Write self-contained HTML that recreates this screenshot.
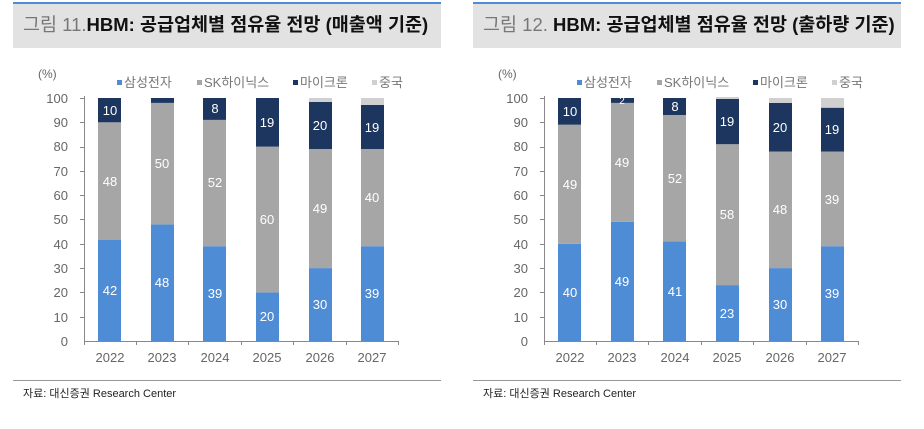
<!DOCTYPE html>
<html><head><meta charset="utf-8"><style>
body{margin:0;background:#fff;width:924px;height:424px;overflow:hidden}
svg text{font-family:"Liberation Sans","Noto Sans CJK KR",sans-serif}
</style></head><body>
<svg width="924" height="424" viewBox="0 0 924 424" xmlns="http://www.w3.org/2000/svg">
<defs>
<g id="axes">
<g font-size="13" fill="#666" text-anchor="end">
<text x="68" y="346">0</text><text x="68" y="322">10</text><text x="68" y="297">20</text><text x="68" y="273">30</text><text x="68" y="249">40</text><text x="68" y="224">50</text><text x="68" y="200">60</text><text x="68" y="176">70</text><text x="68" y="151">80</text><text x="68" y="127">90</text><text x="68" y="103">100</text>
</g>
<text x="38" y="78" font-size="12" fill="#666">(%)</text>
<g font-size="13" fill="#777">
<rect x="117" y="80" width="5" height="5" fill="#4f8cd6"/><text x="124" y="87">삼성전자</text>
<rect x="197" y="80" width="5" height="5" fill="#a6a6a6"/><text x="204" y="87">SK하이닉스</text>
<rect x="293" y="80" width="5" height="5" fill="#1c365f"/><text x="300" y="87">마이크론</text>
<rect x="372" y="80" width="5" height="5" fill="#d0d0d0"/><text x="379" y="87">중국</text>
</g>
<g stroke="#888" stroke-width="1">
<line x1="84.5" y1="96" x2="84.5" y2="341"/><line x1="84" y1="341.5" x2="398" y2="341.5"/>
<line x1="84.5" y1="341" x2="84.5" y2="345"/><line x1="136.5" y1="341" x2="136.5" y2="345"/><line x1="188.5" y1="341" x2="188.5" y2="345"/><line x1="241.5" y1="341" x2="241.5" y2="345"/><line x1="293.5" y1="341" x2="293.5" y2="345"/><line x1="346.5" y1="341" x2="346.5" y2="345"/><line x1="398.5" y1="341" x2="398.5" y2="345"/>
<line x1="80" y1="98.5" x2="84" y2="98.5"/><line x1="80" y1="122.5" x2="84" y2="122.5"/><line x1="80" y1="147.5" x2="84" y2="147.5"/><line x1="80" y1="171.5" x2="84" y2="171.5"/><line x1="80" y1="195.5" x2="84" y2="195.5"/><line x1="80" y1="219.5" x2="84" y2="219.5"/><line x1="80" y1="244.5" x2="84" y2="244.5"/><line x1="80" y1="268.5" x2="84" y2="268.5"/><line x1="80" y1="292.5" x2="84" y2="292.5"/><line x1="80" y1="317.5" x2="84" y2="317.5"/>
</g>
<g font-size="13" fill="#666" text-anchor="middle">
<text x="110" y="362">2022</text><text x="162" y="362">2023</text><text x="215" y="362">2024</text><text x="267" y="362">2025</text><text x="320" y="362">2026</text><text x="372" y="362">2027</text>
</g>
<rect x="13" y="2" width="428" height="2" fill="#4f8cd6"/>
<rect x="13" y="4" width="428" height="44" fill="#e2e2e2"/>
<line x1="13" y1="380.5" x2="441" y2="380.5" stroke="#999"/>
</g>
</defs>

<use href="#axes"/>
<text x="23" y="31" font-size="18.5" fill="#777">그림 11.<tspan fill="#111" font-weight="bold">HBM: 공급업체별 점유율 전망 (매출액 기준)</tspan></text>
<text x="23" y="397" font-size="11" fill="#222">자료: 대신증권 Research Center</text>
<g>
<rect x="98" y="240" width="23" height="101" fill="#4f8cd6"/><rect x="98" y="122.3" width="23" height="117.7" fill="#a6a6a6"/><rect x="98" y="98" width="23" height="24.3" fill="#1c365f"/>
<rect x="151" y="224.4" width="23" height="116.6" fill="#4f8cd6"/><rect x="151" y="102.9" width="23" height="121.5" fill="#a6a6a6"/><rect x="151" y="98" width="23" height="4.9" fill="#1c365f"/>
<rect x="203" y="246.2" width="23" height="94.8" fill="#4f8cd6"/><rect x="203" y="119.9" width="23" height="126.3" fill="#a6a6a6"/><rect x="203" y="98" width="23" height="21.9" fill="#1c365f"/>
<rect x="256" y="292.4" width="23" height="48.6" fill="#4f8cd6"/><rect x="256" y="146.6" width="23" height="145.8" fill="#a6a6a6"/><rect x="256" y="98" width="23" height="48.6" fill="#1c365f"/>
<rect x="309" y="268.1" width="23" height="72.9" fill="#4f8cd6"/><rect x="309" y="149" width="23" height="119.1" fill="#a6a6a6"/><rect x="309" y="102" width="23" height="47" fill="#1c365f"/><rect x="309" y="98" width="23" height="4" fill="#d0d0d0"/>
<rect x="361" y="246.2" width="23" height="94.8" fill="#4f8cd6"/><rect x="361" y="149" width="23" height="97.2" fill="#a6a6a6"/><rect x="361" y="105" width="23" height="44" fill="#1c365f"/><rect x="361" y="98" width="23" height="7" fill="#d0d0d0"/>
<g font-size="13" fill="#fff" text-anchor="middle">
<text x="110" y="295">42</text><text x="110" y="186">48</text><text x="110" y="115">10</text>
<text x="162" y="287">48</text><text x="162" y="168">50</text>
<text x="215" y="298">39</text><text x="215" y="187">52</text><text x="215" y="113">8</text>
<text x="267" y="321">20</text><text x="267" y="224">60</text><text x="267" y="127">19</text>
<text x="320" y="309">30</text><text x="320" y="213">49</text><text x="320" y="130">20</text>
<text x="372" y="298">39</text><text x="372" y="202">40</text><text x="372" y="132">19</text>
</g>
</g>

<g transform="translate(460,0)">
<use href="#axes"/>
<text x="23" y="31" font-size="18.5" fill="#777">그림 12. <tspan fill="#111" font-weight="bold">HBM: 공급업체별 점유율 전망 (출하량 기준)</tspan></text>
<text x="23" y="397" font-size="11" fill="#222">자료: 대신증권 Research Center</text>
<rect x="98" y="243.8" width="23" height="97.2" fill="#4f8cd6"/><rect x="98" y="124.7" width="23" height="119.1" fill="#a6a6a6"/><rect x="98" y="98" width="23" height="26.7" fill="#1c365f"/>
<rect x="151" y="221.9" width="23" height="119.1" fill="#4f8cd6"/><rect x="151" y="102.9" width="23" height="119" fill="#a6a6a6"/><rect x="151" y="98" width="23" height="4.9" fill="#1c365f"/>
<rect x="203" y="241.4" width="23" height="99.6" fill="#4f8cd6"/><rect x="203" y="115" width="23" height="126.4" fill="#a6a6a6"/><rect x="203" y="98" width="23" height="17" fill="#1c365f"/>
<rect x="256" y="285.1" width="23" height="55.9" fill="#4f8cd6"/><rect x="256" y="144.2" width="23" height="140.9" fill="#a6a6a6"/><rect x="256" y="99" width="23" height="45.2" fill="#1c365f"/><rect x="256" y="97" width="23" height="2" fill="#d0d0d0"/>
<rect x="309" y="268.1" width="23" height="72.9" fill="#4f8cd6"/><rect x="309" y="151.5" width="23" height="116.6" fill="#a6a6a6"/><rect x="309" y="102.9" width="23" height="48.6" fill="#1c365f"/><rect x="309" y="98" width="23" height="4.9" fill="#d0d0d0"/>
<rect x="361" y="246.2" width="23" height="94.8" fill="#4f8cd6"/><rect x="361" y="151.5" width="23" height="94.7" fill="#a6a6a6"/><rect x="361" y="107.7" width="23" height="43.8" fill="#1c365f"/><rect x="361" y="98" width="23" height="9.7" fill="#d0d0d0"/>
<g font-size="13" fill="#fff" text-anchor="middle">
<text x="110" y="297">40</text><text x="110" y="189">49</text><text x="110" y="116">10</text>
<text x="162" y="286">49</text><text x="162" y="167">49</text><text x="162" y="104" font-size="10">2</text>
<text x="215" y="296">41</text><text x="215" y="183">52</text><text x="215" y="111">8</text>
<text x="267" y="318">23</text><text x="267" y="219">58</text><text x="267" y="126">19</text>
<text x="320" y="309">30</text><text x="320" y="214">48</text><text x="320" y="132">20</text>
<text x="372" y="298">39</text><text x="372" y="204">39</text><text x="372" y="134">19</text>
</g>
</g>
</svg>
</body></html>
